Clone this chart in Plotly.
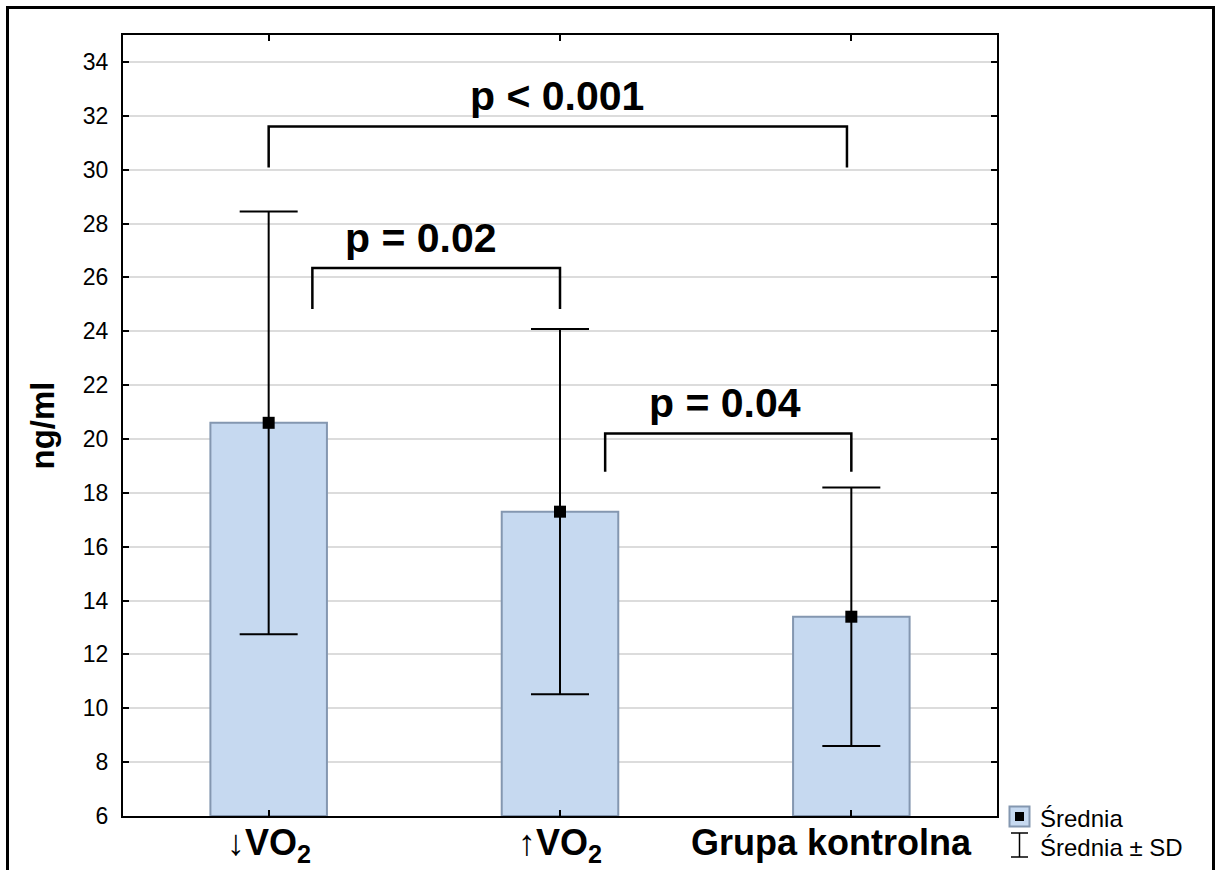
import plotly.graph_objects as go

# Group data: mean and standard deviation (ng/ml)
groups = ["↓VO<sub>2</sub>", "↑VO<sub>2</sub>", "Grupa kontrolna"]
means = [20.6, 17.3, 13.4]
sds = [7.85, 6.78, 4.8]

# Pairwise comparisons: left/right x (group index), bracket top, leg end, label
cmp_x0 = [0.0, 0.15, 1.155]
cmp_x1 = [1.985, 1.0, 2.0]
cmp_top = [31.6, 26.35, 20.2]
cmp_leg = [30.08, 24.83, 18.78]
cmp_label = ["p < 0.001", "p = 0.02", "p = 0.04"]
cmp_text_x = [0.99, 0.522, 1.567]
cmp_text_y = [32.75, 27.45, 21.35]

y_ticks = list(range(6, 36, 2))

FONT = "Arial, Liberation Sans, sans-serif"
BAR_FILL = "#c6d9f0"
BAR_EDGE = "#8497b0"

x_pos = list(range(len(groups)))

fig = go.Figure()

fig.add_trace(go.Bar(
    x=x_pos, y=[m - 6 for m in means], base=6, width=0.4,
    marker=dict(color=BAR_FILL, line=dict(color=BAR_EDGE, width=2)),
    showlegend=False, hoverinfo="skip",
))

fig.add_trace(go.Scatter(
    x=x_pos, y=means, mode="markers",
    marker=dict(symbol="square", size=12, color="black"),
    error_y=dict(type="data", array=sds, symmetric=True,
                 color="black", thickness=2, width=29),
    showlegend=False, hoverinfo="skip",
))

# Significance brackets
for x0, x1, top, leg, lab, tx, ty in zip(cmp_x0, cmp_x1, cmp_top, cmp_leg,
                                         cmp_label, cmp_text_x, cmp_text_y):
    fig.add_trace(go.Scatter(
        x=[x0, x0, x1, x1], y=[leg, top, top, leg], mode="lines",
        line=dict(color="black", width=2.5),
        showlegend=False, hoverinfo="skip",
    ))
    fig.add_annotation(x=tx, y=ty, text=f"<b>{lab}</b>", showarrow=False,
                       font=dict(family=FONT, size=41, color="black"),
                       xanchor="center", yanchor="middle")

# Plot-area geometry (pixels) used for paper-coordinate placement
L, R, T, B = 123, 219, 35, 54
W, H = 1216, 870
pw, ph = W - L - R, H - T - B


def px(x):
    return (x - L) / pw


def py(y):
    return (H - B - y) / ph


# Category labels under the axis
label_shift = [0, 0, -20]
for xi, g, sh in zip(x_pos, groups, label_shift):
    fig.add_annotation(x=xi, xref="x", y=py(820), yref="paper",
                       text=f"<b>{g}</b>", showarrow=False,
                       xanchor="center", yanchor="top", xshift=sh,
                       font=dict(family=FONT, size=36, color="black"))

shapes = [
    # outer frame
    dict(type="rect", xref="paper", yref="paper",
         x0=px(7.5), x1=px(1213.5), y0=py(7.5), y1=py(900),
         line=dict(color="black", width=3), fillcolor="rgba(0,0,0,0)"),
    # legend: mean icon
    dict(type="rect", xref="paper", yref="paper",
         x0=px(1009.5), x1=px(1029.5), y0=py(806.5), y1=py(826.5),
         line=dict(color=BAR_EDGE, width=2), fillcolor=BAR_FILL),
    dict(type="rect", xref="paper", yref="paper",
         x0=px(1015), x1=px(1024), y0=py(812), y1=py(821),
         line=dict(width=0), fillcolor="black"),
    # legend: SD icon (I-beam)
    dict(type="line", xref="paper", yref="paper",
         x0=px(1019.5), x1=px(1019.5), y0=py(833), y1=py(857),
         line=dict(color="black", width=1.5)),
    dict(type="line", xref="paper", yref="paper",
         x0=px(1011), x1=px(1028), y0=py(833), y1=py(833),
         line=dict(color="black", width=1.5)),
    dict(type="line", xref="paper", yref="paper",
         x0=px(1011), x1=px(1028), y0=py(857), y1=py(857),
         line=dict(color="black", width=1.5)),
]

for label, yc in [("Średnia", 818), ("Średnia ± SD", 847)]:
    fig.add_annotation(xref="paper", yref="paper", x=px(1038), y=py(yc),
                       text=label, showarrow=False, xanchor="left",
                       yanchor="middle",
                       font=dict(family=FONT, size=24, color="black"))

fig.update_layout(
    width=W, height=H,
    margin=dict(l=L, r=R, t=T, b=B, autoexpand=False),
    paper_bgcolor="white", plot_bgcolor="white",
    shapes=shapes,
    font=dict(family=FONT, color="black"),
)

fig.update_xaxes(
    range=[-0.5, 2.5], tickvals=x_pos, showticklabels=False,
    ticks="inside", ticklen=6, tickwidth=2, tickcolor="black",
    showline=True, linecolor="black", linewidth=2, mirror="ticks",
    showgrid=False, zeroline=False, fixedrange=True,
)

fig.update_yaxes(
    range=[6, 35], tickvals=y_ticks, ticktext=[str(v) for v in y_ticks],
    tickfont=dict(family=FONT, size=23, color="black"),
    ticks="inside", ticklen=6, tickwidth=2, tickcolor="black",
    showline=True, linecolor="black", linewidth=2, mirror="ticks",
    showgrid=True, gridcolor="#dcdcdc", gridwidth=1.5,
    zeroline=False, fixedrange=True,
    ticklabelstandoff=8,
    title=dict(text="<b>ng/ml</b>", font=dict(family=FONT, size=33, color="black"),
               standoff=18),
)

fig.write_html("out.html")
